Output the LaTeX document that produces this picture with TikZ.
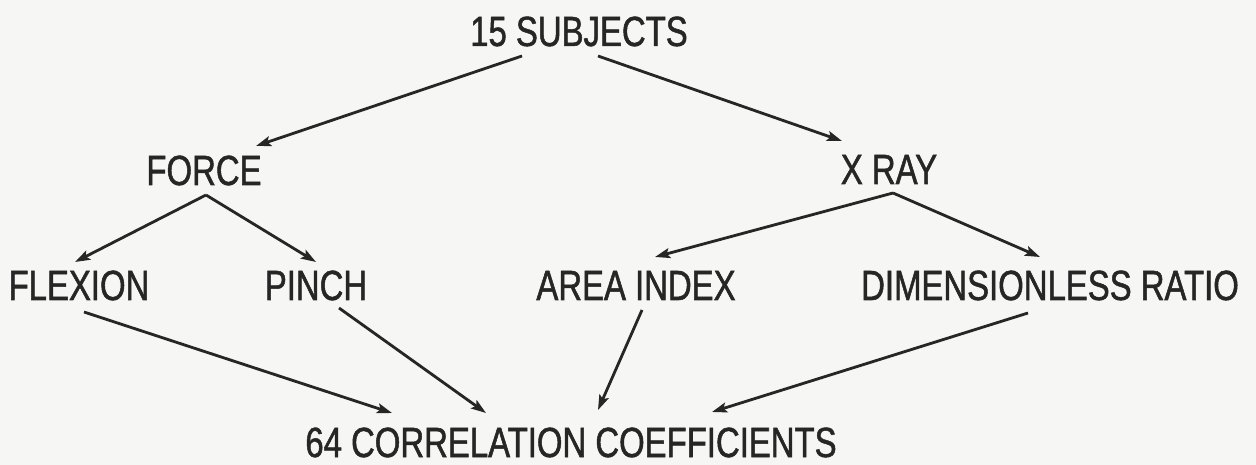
\documentclass[tikz,border=0pt]{standalone}
\usepackage{fontspec}
\setmainfont[FakeStretch=0.78,UprightFeatures={FakeBold=1.2}]{Liberation Sans}
\usetikzlibrary{arrows.meta}
\definecolor{ink}{HTML}{262626}
\definecolor{paper}{HTML}{F6F6F4}
\tikzset{
  lbl/.style={anchor=base,inner sep=0pt,text=ink,font=\fontsize{24}{28}\selectfont},
  arr/.style={draw=ink,line width=1.6pt,-{Stealth[length=0.3cm,width=0.2cm,inset=0.06cm]}}
}
\begin{document}
\begin{tikzpicture}[x=0.02cm,y=-0.02cm]
\fill[paper] (0,0) rectangle (1256,465);
\useasboundingbox (0,0) rectangle (1256,465);
\node[lbl] (subj) at (579,46) {15 SUBJECTS};
\node[lbl] (force) at (204,185) {FORCE};
\node[lbl] (xray) at (889,184) {X RAY};
\node[lbl] (flex) at (79,300) {FLEXION};
\node[lbl] (pinch) at (316,300) {PINCH};
\node[lbl] (area) at (636,300) {AREA INDEX};
\node[lbl] (dim) at (1050,300) {DIMENSIONLESS RATIO};
\node[lbl] (corr) at (571,457) {64 CORRELATION COEFFICIENTS};
\coordinate (fapex) at ([shift={(2,10)}]force.base);
\coordinate (xapex) at ([shift={(4,9)}]xray.base);
\draw[arr] ([shift={(-57,10)}]subj.base) -- ([shift={(52,-39)}]force.base);
\draw[arr] ([shift={(19,10)}]subj.base) -- ([shift={(-47,-43)}]xray.base);
\draw[arr] (fapex) -- ([shift={(-4,-38)}]flex.base);
\draw[arr] (fapex) -- ([shift={(0,-38)}]pinch.base);
\draw[arr] (xapex) -- ([shift={(19,-43)}]area.base);
\draw[arr] (xapex) -- ([shift={(-10,-43)}]dim.base);
\draw[arr] ([shift={(5,12)}]flex.base) -- ([shift={(-179,-44)}]corr.base);
\draw[arr] ([shift={(23,8)}]pinch.base) -- ([shift={(-85,-44)}]corr.base);
\draw[arr] ([shift={(6,10)}]area.base) -- ([shift={(27,-47)}]corr.base);
\draw[arr] ([shift={(-22,13)}]dim.base) -- ([shift={(141,-45)}]corr.base);
\end{tikzpicture}
\end{document}
